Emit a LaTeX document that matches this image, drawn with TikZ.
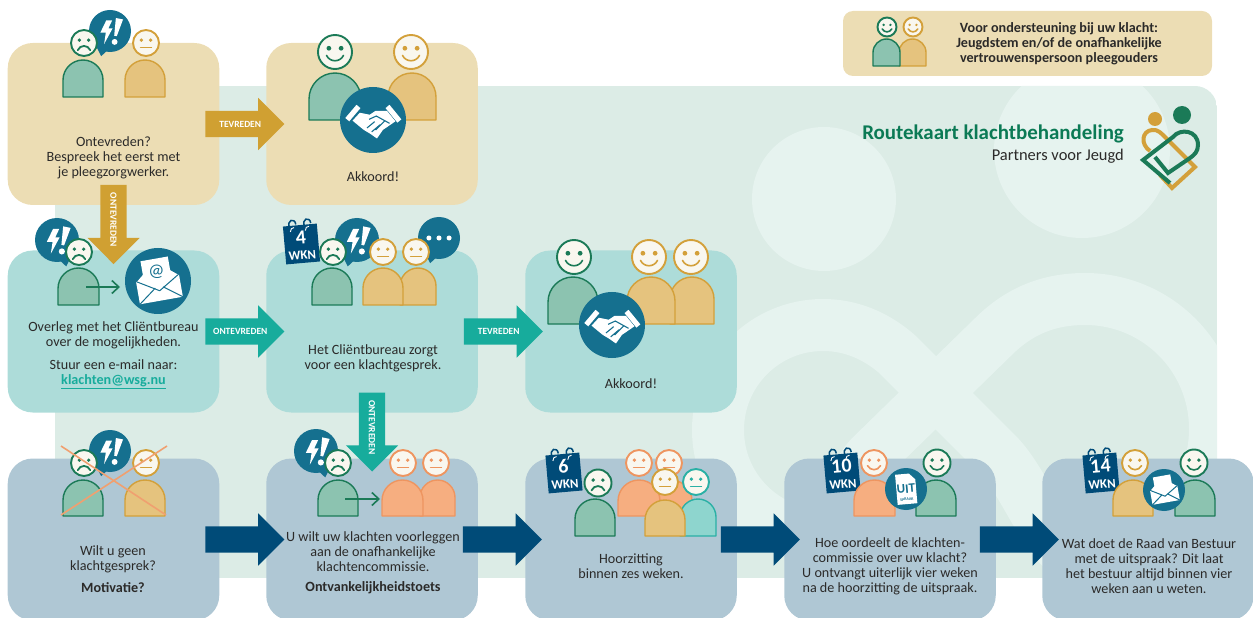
\documentclass[tikz,border=0pt]{standalone}
\usepackage{fontspec}
\setmainfont{Carlito}
\usetikzlibrary{shapes.arrows,calc,arrows.meta}
\definecolor{tanbg}{HTML}{ECDDB4}
\definecolor{tealbg}{HTML}{ADDCD9}
\definecolor{bluebg}{HTML}{AFC7D4}
\definecolor{back}{HTML}{DCECE6}
\definecolor{water}{HTML}{E6F3EF}
\definecolor{goldA}{HTML}{D0A032}
\definecolor{tealA}{HTML}{17AC9C}
\definecolor{navy}{HTML}{004B78}
\definecolor{disc}{HTML}{15708F}
\definecolor{ink}{HTML}{2B2A29}
\definecolor{titlegreen}{HTML}{0B7A55}
\definecolor{greenF}{HTML}{8CC3B0}\definecolor{greenL}{HTML}{1B7A57}
\definecolor{goldF}{HTML}{E5C37E}\definecolor{goldL}{HTML}{D3A03A}
\definecolor{orangeF}{HTML}{F6AE80}\definecolor{orangeL}{HTML}{EE9560}
\definecolor{tealF}{HTML}{8ED5CE}\definecolor{tealL}{HTML}{2AB0A5}
\definecolor{crossc}{HTML}{F0A070}
\definecolor{facew}{HTML}{F9F7EF}
\newcommand\shaftbox{\phantom{\rule{26bp}{26bp}}}
\tikzset{
  cardbox/.style={rounded corners=25bp,minimum width=211.5bp,minimum height=162bp,inner sep=0pt,outer sep=0pt},
  flowarrow/.style={single arrow,minimum height=79bp,single arrow head extend=13bp,
    single arrow tip angle=90,single arrow head indent=0pt,inner sep=0pt,outer sep=0pt},
  flowlabel/.style={text=white,font=\fontsize{9.5}{10}\bfseries\selectfont,inner sep=0pt},
  txt/.style={text=ink,align=center,inner sep=0pt,yshift=-1.5bp,font=\fontsize{14.2}{15}\selectfont},
  txtb/.style={txt,font=\fontsize{14.2}{15}\bfseries\selectfont},
  minibarb/.style={greenL,line width=1.6bp,-{Straight Barb[length=7bp,width=13bp]}},
}
% person's body: x0,x1,top,bottom,kind
\newcommand\pbody[5]{%
  \pgfmathsetmacro\rr{(#2-#1)/2}\pgfmathsetmacro\cx{(#1+#2)/2}%
  \pgfmathsetmacro\ys{#3+\rr}\pgfmathsetmacro\ka{#3+0.45*\rr}%
  \pgfmathsetmacro\la{\cx-0.55*\rr}\pgfmathsetmacro\lb{\cx+0.55*\rr}%
  \draw[fill=#5F,draw=#5L,line width=1.4bp,line join=round] (#1,#4) -- (#1,\ys) .. controls (#1,\ka) and (\la,#3) .. (\cx,#3)
    .. controls (\lb,#3) and (#2,\ka) .. (#2,\ys) -- (#2,#4) -- cycle;}
% face: cx,cy,r,kind,mood
\newcommand\moodhappy[1]{\draw[#1L,line width=1.6bp,line cap=round] (-0.5,0.2) .. controls (-0.3,0.62) and (0.3,0.62) .. (0.5,0.2);}
\newcommand\moodneutral[1]{\draw[#1L,line width=1.2bp,line cap=round] (-0.42,0.33) -- (0.42,0.33);}
\newcommand\moodsad[1]{\draw[#1L,line width=1.8bp,line cap=round] (-0.48,0.55) .. controls (-0.3,0.12) and (0.3,0.12) .. (0.48,0.55);}
\newcommand\face[5]{\begin{scope}[shift={(#1,#2)},scale=#3]
  \draw[fill=facew,draw=#4L,line width=1.9bp] (0,0) circle[radius=1];
  \fill[#4L] (-0.36,-0.22) circle[radius=0.14] (0.36,-0.22) circle[radius=0.14];
  \csname mood#5\endcsname{#4}
\end{scope}}
% bubble with lightning and exclamation: cx,cy,r,tail direction
\newcommand\bubbletail[2]{\fill[disc] (#1*0.1,0.9) -- (#1*0.42,1.2) -- (#1*0.72,0.6) -- cycle;}
\newcommand\bubble[4]{\begin{scope}[shift={(#1,#2)},scale=#3]
  \fill[disc] (0,0) circle[radius=1];\bubbletail{#4}{}
  \fill[white] (-0.18,-0.5) -- (-0.46,0.08) -- (-0.2,0.08) -- (-0.28,0.62) -- (0.12,-0.12) -- (-0.08,-0.12) -- (0.1,-0.5) -- cycle;
  \fill[white] (0.28,-0.62) -- (0.62,-0.55) -- (0.32,0.25) -- (0.2,0.22) -- cycle;
  \fill[white] (0.22,0.52) circle[radius=0.14];
\end{scope}}
\newcommand\dotsbubble[3]{\begin{scope}[shift={(#1,#2)},scale=#3]
  \fill[disc] (0,0) circle[radius=1];\bubbletail{-1}{}
  \fill[white] (-0.48,0) circle[radius=0.12] (0,0) circle[radius=0.12] (0.48,0) circle[radius=0.12];
\end{scope}}
% handshake disc
\newcommand\handshake[3]{\begin{scope}[shift={(#1,#2)},scale=#3]
  \fill[disc] (0,0) circle[radius=1];
  \fill[white] (-0.84,-0.06) -- (-0.5,-0.46) -- (-0.38,-0.36) -- (-0.72,0.04) -- cycle;
  \fill[white] (0.5,-0.46) -- (0.86,-0.02) -- (0.74,0.08) -- (0.38,-0.36) -- cycle;
  \fill[white] (-0.4,-0.22) -- (-0.1,-0.16) -- (0.08,-0.28) -- (0.42,-0.28) -- (0.68,0.04) -- (0.3,0.3) -- (0.12,0.56) -- (-0.08,0.42) -- (-0.28,0.3) -- (-0.62,0.02) -- cycle;
  \draw[disc,line width=1.1bp] (-0.12,-0.02) -- (0.1,-0.12) -- (0.5,0.1) (0.36,0.02) -- (0.08,0.3) (0.22,0.14) -- (-0.04,0.36) (0.05,0.05) -- (-0.18,0.24);
\end{scope}}
% envelope disc: cx,cy,r,content
\newcommand\maildisc[4]{\begin{scope}[shift={(#1,#2)},scale=#3]
  \fill[disc] (0,0) circle[radius=1];
  \begin{scope}[rotate=10]
    \fill[white] (-0.64,-0.08) -- (0,-0.6) -- (0.64,-0.08) -- cycle;
    \fill[white] (-0.42,-0.68) rectangle (0.42,0.1);
    \fill[white] (-0.66,-0.1) rectangle (0.66,0.6);
    \draw[disc,line width=1bp,line join=round] (-0.66,-0.1) -- (0,0.3) -- (0.66,-0.1) (-0.66,0.6) -- (-0.12,0.2) (0.66,0.6) -- (0.12,0.2);
    \node[text=disc,inner sep=0pt,font=\fontsize{18}{18}\selectfont] at (0,-0.28) {#4};
  \end{scope}
\end{scope}}
% calendar block: cx,cy,number
\newcommand\wkn[3]{\begin{scope}[shift={(#1,#2)},rotate=5]
  \fill[navy] (-17,-19) rectangle (17,19);
  \draw[navy,line width=1.5bp] (-10,-16) .. controls (-14,-26) and (-4,-27) .. (-4,-20) (5,-16) .. controls (1,-26) and (11,-27) .. (11,-20);
  \draw[white,line width=0.9bp] (-10,-13) .. controls (-10,-16) and (-8,-17) .. (-6,-17) (5,-13) .. controls (5,-16) and (7,-17) .. (9,-17);
  \node[text=white,inner sep=0pt,rotate=5,font=\fontsize{20}{20}\bfseries\selectfont] (wk#3a) at (0,-6.5) {#3};
  \node[text=white,inner sep=0pt,rotate=5,font=\fontsize{13}{13}\bfseries\selectfont] (wk#3b) at (0,11.5) {WKN};
\end{scope}}
% flow arrows
\newcommand\flowright[4]{\node[flowarrow,fill=#3,anchor=tail] (#1) at ($(#2.east)+(-14,0)$) {\shaftbox};
  \node[flowlabel] (#1t) at ($(#1.tail)+(35,0)$) {#4};}
\newcommand\flowdown[4]{\node[flowarrow,fill=#3,shape border rotate=270,anchor=tail] (#1) at ($(#2.south)+(0,-20)$) {\shaftbox};
  \node[flowlabel,rotate=-90] (#1t) at ($(#1.tail)+(0,35)$) {#4};}
\begin{document}
\begin{tikzpicture}[x=1bp,y=-1bp]
\useasboundingbox (0,0) rectangle (1253,618);
\clip (0,0) rectangle (1253,618);
% background
\begin{scope}
  \path[clip,rounded corners=22bp] (55,86) rectangle (1217,578);
  \fill[back] (55,86) rectangle (1217,578);
  \fill[water] (824,199) circle[radius=72];
  \fill[water] (1082,150) circle[radius=88];
  \draw[water,line width=52bp,line join=round] (993,337) .. controls (1020,310) and (1050,299) .. (1085,299)
    .. controls (1157,299) and (1215,357) .. (1215,429) .. controls (1215,501) and (1157,559) .. (1085,559)
    .. controls (1050,559) and (1030,490) .. (1000,457) -- (897,354)
    .. controls (875,335) and (850,325) .. (823,325) .. controls (765,325) and (718,372) .. (718,430)
    .. controls (718,488) and (765,535) .. (823,535) .. controls (850,535) and (850,477) .. (870,457) -- cycle;
\end{scope}
% cards
\node[cardbox,fill=tanbg] (c1) at (113.5,124) {};
\node[cardbox,fill=tanbg] (c2) at (372,124) {};
\node[cardbox,fill=tealbg] (c3) at (113.5,331.5) {};
\node[cardbox,fill=tealbg] (c4) at (372,331.5) {};
\node[cardbox,fill=tealbg] (c5) at (631,331.5) {};
\node[cardbox,fill=bluebg] (c6) at (113.5,539.5) {};
\node[cardbox,fill=bluebg] (c7) at (372,539.5) {};
\node[cardbox,fill=bluebg] (c8) at (631,539.5) {};
\node[cardbox,fill=bluebg] (c9) at (890,539.5) {};
\node[cardbox,fill=bluebg] (c10) at (1148,539.5) {};
% legend
\node[fill=tanbg,rounded corners=10bp,minimum width=369bp,minimum height=65bp,inner sep=0pt] (legend) at (1027.5,43.5) {};
\pbody{899}{926}{39}{66}{gold}\pbody{873}{900}{39}{66}{green}
\face{887}{27}{9.5}{green}{happy}\face{913}{27}{9.5}{gold}{happy}
\node[txtb] (legendtxt) at (1059,42.5) {Voor ondersteuning bij uw klacht:\\Jeugdstem en/of de onafhankelijke\\vertrouwenspersoon pleegouders};
% title and logo
\node[anchor=east,inner sep=0pt,text=titlegreen,font=\fontsize{21}{24}\bfseries\selectfont] (title) at (1124,134) {Routekaart klachtbehandeling};
\node[anchor=east,inner sep=0pt,text=ink,font=\fontsize{16.5}{18}\selectfont] (subtitle) at (1124,156) {Partners voor Jeugd};
\fill[greenL] (1182,115) circle[radius=9];
\fill[goldL] (1155,119) circle[radius=7];
\draw[goldL,line width=4bp,line join=miter] (1150,151) .. controls (1140,144) and (1142,131) .. (1152,130) .. controls (1158,129) and (1162,134) .. (1166,138) -- (1195,167) -- (1172,188) -- (1160,175);
\draw[greenL,line width=4bp,line join=miter] (1170,183) -- (1143,160) -- (1173,137) .. controls (1180,128) and (1198,130) .. (1198,145) .. controls (1198,152) and (1194,155) .. (1190,158) -- (1168,173) -- (1155,157);
% arrows
\flowright{a1}{c1}{goldA}{TEVREDEN}
\flowdown{a2}{c1}{goldA}{ONTEVREDEN}
\flowright{a3}{c3}{tealA}{ONTEVREDEN}
\flowright{a4}{c4}{tealA}{TEVREDEN}
\flowdown{a5}{c4}{tealA}{ONTEVREDEN}
\node[flowarrow,fill=navy,anchor=tail] (n1) at ($(c6.east)+(-14,0)$) {\shaftbox};
\node[flowarrow,fill=navy,anchor=tail] (n2) at ($(c7.east)+(-15,0)$) {\shaftbox};
\node[flowarrow,fill=navy,anchor=tail] (n3) at ($(c8.east)+(-16,0)$) {\shaftbox};
\node[flowarrow,fill=navy,anchor=tail] (n4) at ($(c9.east)+(-16,0)$) {\shaftbox};
% card 1
\bubble{110}{31}{21}{-1}
\pbody{63}{103}{60}{97}{green}\pbody{125}{165}{60}{97}{gold}
\face{84}{43}{13}{green}{sad}\face{146}{43}{13}{gold}{neutral}
\node[txt] (t1) at (113.5,156) {Ontevreden?\\Bespreek het eerst met\\je pleegzorgwerker.};
% card 2
\pbody{309}{361}{73}{120}{green}\pbody{388}{436}{73}{120}{gold}
\face{335}{52}{17}{green}{happy}\face{411}{52}{17}{gold}{happy}
\handshake{373}{120}{33}
\node[txt] (t2) at (373,175) {Akkoord!};
% card 3
\bubble{57}{240}{22}{1}
\pbody{58}{99}{268}{305}{green}
\face{79}{252}{13}{green}{sad}
\maildisc{158}{281}{33}{@}
\coordinate (s3) at (86,287); \coordinate (e3) at (120,287);
\draw[minibarb] (s3) -- (e3);
\node[txt] (t3) at (113.5,353.5) {Overleg met het Cliëntbureau\\over de mogelijkheden.\\[8pt]Stuur een e-mail naar:\\{\bfseries\color{tealA}\underline{klachten@wsg.nu}}};
% card 4
\wkn{301.5}{244}{4}
\bubble{357}{240}{22}{-1}
\dotsbubble{439}{238}{21}
\pbody{312}{352}{268}{305}{green}
\pbody{400}{436}{268}{305}{gold}\pbody{363}{403}{268}{305}{gold}
\face{333}{252}{13}{green}{sad}\face{383}{252}{13}{gold}{neutral}\face{416}{252}{13}{gold}{neutral}
\node[txt] (t4) at (373,356.5) {Het Cliëntbureau zorgt\\voor een klachtgesprek.};
% card 5
\pbody{548}{598}{277}{324}{green}
\pbody{670}{714}{277}{324}{gold}\pbody{627}{675}{277}{324}{gold}
\face{574}{257}{17}{green}{happy}\face{649}{257}{17}{gold}{happy}\face{691}{257}{17}{gold}{happy}
\handshake{612}{325}{33}
\node[txt] (t5) at (631,382) {Akkoord!};
% card 6
\bubble{110}{451}{21}{-1}
\pbody{63}{103}{480}{516}{green}\pbody{125}{165}{480}{516}{gold}
\face{84}{463}{13}{green}{sad}\face{146}{463}{13}{gold}{neutral}
\draw[crossc,line width=1.6bp] (61,446) -- (166,515) (61,515) -- (167,446);
\node[txt] (t6) at (113,557.5) {Wilt u geen\\klachtgesprek?};
\node[txtb] (t6b) at (113,586) {Motivatie?};
% card 7
\bubble{316}{451}{22}{1}
\pbody{318}{358}{480}{516}{green}
\pbody{420}{455}{480}{516}{orange}\pbody{382}{423}{480}{516}{orange}
\face{338}{463}{13}{green}{sad}\face{403}{463}{13}{orange}{neutral}\face{436}{463}{13}{orange}{neutral}
\coordinate (s7) at (345,499); \coordinate (e7) at (380,499);
\draw[minibarb] (s7) -- (e7);
\node[txt] (t7) at (373,550) {U wilt uw klachten voorleggen\\aan de onafhankelijke\\klachtencommissie.};
\node[txtb] (t7b) at (373,586) {Ontvankelijkheidstoets};
% card 8
\wkn{564}{473}{6}
\pbody{650}{692}{480}{516}{orange}\pbody{618}{660}{480}{516}{orange}
\face{669}{463}{13}{orange}{neutral}\face{639}{463}{13}{orange}{neutral}
\pbody{575}{615}{499}{536}{green}
\pbody{680}{716}{499}{536}{teal}\pbody{645}{685}{500}{536}{gold}
\face{598}{483}{13.5}{green}{sad}\face{696}{482}{13}{teal}{neutral}\face{665}{482}{13}{gold}{neutral}
\node[txt] (t8) at (631,564.5) {Hoorzitting\\binnen zes weken.};
% card 9
\wkn{842}{473}{10}
\pbody{854}{895}{480}{516}{orange}\pbody{916}{956}{480}{516}{green}
\face{874}{463}{13}{orange}{happy}\face{937}{463}{13.5}{green}{happy}
\begin{scope}[shift={(906,489)},scale=21]
  \fill[disc] (0,0) circle[radius=1];
  \begin{scope}[rotate=5]
    \fill[white] (-0.46,-0.72) -- (0.2,-0.72) -- (0.48,-0.42) -- (0.48,0.72) -- (-0.46,0.72) -- cycle;
    \node[text=disc,inner sep=0pt,rotate=5,font=\fontsize{13}{13}\bfseries\selectfont] (uit) at (0,0.0) {UIT};
    \node[text=disc,inner sep=0pt,rotate=5,font=\fontsize{4}{4}\bfseries\selectfont] (spraak) at (0,0.5) {SPRAAK};
  \end{scope}
\end{scope}
\node[txt] (t9) at (890,564.5) {Hoe oordeelt de klachten-\\commissie over uw klacht?\\U ontvangt uiterlijk vier weken\\na de hoorzitting de uitspraak.};
% card 10
\wkn{1101}{473}{14}
\pbody{1113}{1153}{480}{516}{gold}\pbody{1175}{1215}{480}{516}{green}
\face{1135}{463}{13}{gold}{happy}\face{1194}{463}{13.5}{green}{happy}
\maildisc{1164}{490}{21}{}
\node[txt] (t10) at (1149,564.5) {Wat doet de Raad van Bestuur\\met de uitspraak? Dit laat\\het bestuur altijd binnen vier\\weken aan u weten.};
\end{tikzpicture}
\end{document}
